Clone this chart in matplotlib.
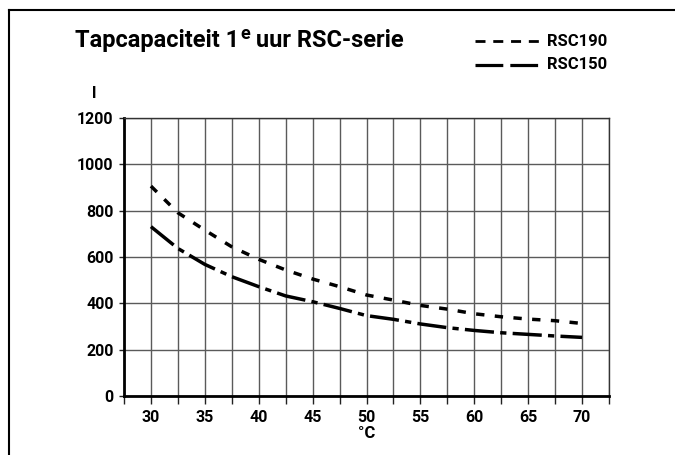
import matplotlib
matplotlib.use("Agg")
import matplotlib.pyplot as plt
from matplotlib.lines import Line2D

temps = [30, 32.5, 35, 37.5, 40, 42.5, 45, 47.5, 50, 52.5, 55, 57.5, 60, 62.5, 65, 67.5, 70]
rsc190 = [906, 791, 716, 644, 590, 544, 505, 472, 436, 414, 391, 375, 355, 342, 332, 325, 313]
rsc150 = [731, 637, 568, 515, 472, 432, 407, 378, 347, 331, 311, 295, 283, 273, 266, 259, 253]
xticks = [30, 35, 40, 45, 50, 55, 60, 65, 70]
yticks = [0, 200, 400, 600, 800, 1000, 1200]

FONT = "Roboto"
plt.rcParams['font.family'] = [FONT, 'DejaVu Sans']

W, H = 675, 455
fig = plt.figure(figsize=(W/100, H/100), dpi=100)
ax = fig.add_axes([124/W, 1-396/H, (609-124)/W, (396-118)/H])

def fx(px):
    return px / W

def fy(py):
    return 1 - py / H

ax.set_xlim(27.5, 72.5)
ax.set_ylim(0, 1200)
ax.set_xticks(xticks)
ax.set_xticks([27.5 + 5*k for k in range(10)], minor=True)
ax.set_yticks(yticks)
ax.grid(True, which='both', color='#5a5a5a', lw=1.0)
ax.set_axisbelow(True)
ax.tick_params(axis='x', which='both', direction='out', length=5.5, width=1.0, color='#222222', pad=4.5)
ax.tick_params(axis='y', which='major', direction='out', length=3.5, width=1.0, color='#222222', pad=4)
ax.tick_params(axis='y', which='minor', left=False)
for lab in ax.get_xticklabels() + ax.get_yticklabels():
    lab.set_fontweight('bold')
    lab.set_fontsize(11.5)
for s in ['left', 'bottom']:
    ax.spines[s].set_linewidth(2.0)
for s in ['top', 'right']:
    ax.spines[s].set_linewidth(1.0)
    ax.spines[s].set_color('#333333')

ax.plot(temps, rsc190, color='black', lw=2.5, dashes=(2.4, 3.0), dash_capstyle='butt')
ax.plot(temps, rsc150, color='black', lw=2.5, dashes=(8.4, 1.8, 1.8, 1.8), dash_capstyle='butt')

# frame
fig.add_artist(Line2D([fx(9), fx(9)], [0, fy(10)], transform=fig.transFigure, color='black', lw=1.5))
fig.add_artist(Line2D([fx(9), 1], [fy(10), fy(10)], transform=fig.transFigure, color='black', lw=1.5))

# title with superscript
ty = fy(47)
t1 = fig.text(fx(75), ty, "Tapcapaciteit 1", fontsize=17, fontweight='bold', va='baseline', ha='left')
fig.canvas.draw()
r = fig.canvas.get_renderer()
bb1 = t1.get_window_extent(r)
t2 = fig.text(bb1.x1/W + 0.002, fy(39), "e", fontsize=13, fontweight='bold', va='baseline', ha='left')
fig.canvas.draw()
bb2 = t2.get_window_extent(r)
fig.text(bb2.x1/W, ty, " uur RSC-serie", fontsize=17, fontweight='bold', va='baseline', ha='left')

# legend
fig.add_artist(Line2D([fx(475), fx(539)], [fy(41)]*2, transform=fig.transFigure, color='black', lw=2.0,
                      dashes=(3.6, 2.8), dash_capstyle='butt'))
fig.add_artist(Line2D([fx(475), fx(539)], [fy(65)]*2, transform=fig.transFigure, color='black', lw=2.3,
                      dashes=(8.7, 2.2), dash_capstyle='butt'))
fig.text(fx(547), fy(41), "RSC190", fontsize=12, fontweight='bold', va='center', ha='left')
fig.text(fx(547), fy(65), "RSC150", fontsize=12, fontweight='bold', va='center', ha='left')

# axis labels
fig.text(fx(94), fy(94), "l", fontsize=12, fontweight='bold', va='center', ha='center')
fig.text(fx(367), fy(433), "°C", fontsize=12, fontweight='bold', va='center', ha='center')

fig.savefig("out.png", dpi=100)
